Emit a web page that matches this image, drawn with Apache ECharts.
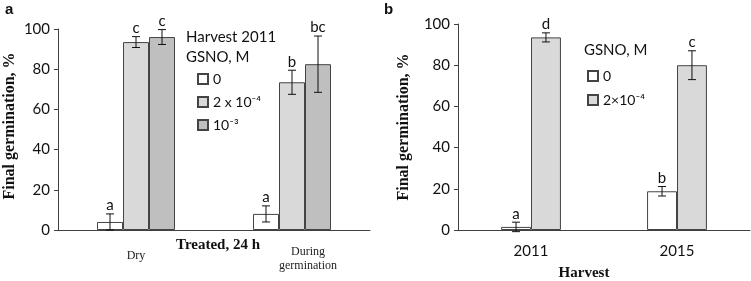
<!DOCTYPE html>
<html>
<head>
<meta charset="utf-8">
<script src="https://cdn.jsdelivr.net/npm/echarts@6/dist/echarts.min.js"></script>
<style>
  html, body { margin: 0; padding: 0; background: #fff; }
  #chart { width: 751px; height: 281px; }
</style>
</head>
<body>
<div id="chart"></div>
<script>
// panel a: harvest 2011, treated 24 h
const treatCats = ['Dry', 'During germination']
const aNames = ['0', '2 x 10⁻⁴', '10⁻³']
const aVals = [[4, 8], [93.5, 73.5], [96, 82.5]]
const aErrs = [[4, 4], [2.7, 6], [3.7, 14]]
const aLetters = [['a', 'a'], ['c', 'b'], ['c', 'bc']]

// panel b: harvests
const harvestCats = ['2011', '2015']
const bNames = ['0', '2×10⁻⁴']
const bVals = [[1.5, 18.8], [93.5, 80]]
const bErrs = [[2.3, 2.3], [2.2, 7]]
const bLetters = [['a', 'b'], ['d', 'c']]

const yTicks = [0, 20, 40, 60, 80, 100]

const SANS = 'Lato'
const SERIF = 'Liberation Serif'
const AXIS = '#404040'
const fills = ['#ffffff', '#d9d9d9', '#bfbfbf']

const chart = echarts.init(document.getElementById('chart'))

const gapA = 0.5
const gapB = 0.59

const yAxisFor = (gridIndex, gap, pad) => ({
  type: 'value',
  gridIndex,
  min: yTicks[0],
  max: yTicks[yTicks.length - 1],
  interval: yTicks[1] - yTicks[0],
  name: 'Final germination, %',
  nameLocation: 'middle',
  nameRotate: 90,
  nameGap: gap,
  nameMoveOverlap: false,
  nameTextStyle: { fontFamily: SERIF, fontWeight: 'bold', fontSize: 16, color: '#111', padding: pad },
  axisLine: { show: true, lineStyle: { color: AXIS } },
  axisTick: { show: true, length: 4, lineStyle: { color: AXIS } },
  axisLabel: { fontFamily: SANS, fontSize: 15, color: '#111', margin: 8 },
  splitLine: { show: false }
})

const errSeries = (xi, vals, errs, letters, i, n, gap) => ({
  type: 'custom',
  xAxisIndex: xi,
  yAxisIndex: xi,
  silent: true,
  z: 5,
  data: vals.map((v, k) => [k, v, errs[k]]),
  renderItem: (params, api) => {
    const c = api.value(0), v = api.value(1), e = api.value(2)
    const band = api.size([1, 0])[0]
    const bw = band * (1 - gap) / n
    const cx = api.coord([c, v])[0] + (i - (n - 1) / 2) * bw
    const yt = api.coord([c, v + e])[1]
    const yb = api.coord([c, v - e])[1]
    const st = { stroke: '#111', lineWidth: 1 }
    return {
      type: 'group',
      children: [
        { type: 'line', shape: { x1: cx, y1: yt, x2: cx, y2: yb }, style: st },
        { type: 'line', shape: { x1: cx - 4, y1: yt, x2: cx + 4, y2: yt }, style: st },
        { type: 'line', shape: { x1: cx - 4, y1: yb, x2: cx + 4, y2: yb }, style: st },
        {
          type: 'text',
          style: {
            text: letters[params.dataIndex],
            x: cx, y: yt - 1,
            align: 'center', verticalAlign: 'bottom',
            fontFamily: SANS, fontSize: 15, fill: '#111'
          }
        }
      ]
    }
  }
})

const barSeries = (xi, name, vals, i, gap) => ({
  type: 'bar',
  name,
  xAxisIndex: xi,
  yAxisIndex: xi,
  data: vals,
  barGap: '0%',
  barCategoryGap: (gap * 100) + '%',
  itemStyle: { color: fills[i], borderColor: '#444', borderWidth: 1 }
})

const series = []
aNames.forEach((nm, i) => series.push(barSeries(0, nm, aVals[i], i, gapA)))
bNames.forEach((nm, i) => series.push(barSeries(1, nm, bVals[i], i, gapB)))
aNames.forEach((nm, i) => series.push(errSeries(0, aVals[i], aErrs[i], aLetters[i], i, aNames.length, gapA)))
bNames.forEach((nm, i) => series.push(errSeries(1, bVals[i], bErrs[i], bLetters[i], i, bNames.length, gapB)))

const legendText = { fontFamily: SANS, fontSize: 14, color: '#111' }

const option = {
  animation: false,
  backgroundColor: '#fff',
  grid: [
    { left: 58, top: 29, width: 312, height: 201, outerBoundsMode: 'none', containLabel: false },
    { left: 458, top: 24, width: 292, height: 206, outerBoundsMode: 'none', containLabel: false }
  ],
  xAxis: [
    {
      type: 'category',
      gridIndex: 0,
      data: [
        { value: treatCats[0], textStyle: { padding: [4, 0, 0, 0] } },
        { value: treatCats[1], textStyle: { padding: [0, 0, 0, 32] } }
      ],
      name: 'Treated, 24 h',
      nameLocation: 'middle',
      nameGap: 8,
      nameMoveOverlap: false,
      nameTextStyle: { fontFamily: SERIF, fontWeight: 'bold', fontSize: 15, color: '#111', padding: [0, 0, 0, 8] },
      axisLine: { lineStyle: { color: AXIS } },
      axisTick: { length: 5, lineStyle: { color: AXIS } },
      axisLabel: {
        fontFamily: SERIF, fontSize: 12, color: '#222', margin: 15, lineHeight: 14,
        formatter: (v) => v.replace(' ', '\n')
      }
    },
    {
      type: 'category',
      gridIndex: 1,
      data: harvestCats,
      name: 'Harvest',
      nameLocation: 'middle',
      nameGap: 36,
      nameMoveOverlap: false,
      nameTextStyle: { fontFamily: SERIF, fontWeight: 'bold', fontSize: 15, color: '#111', padding: [0, 40, 0, 0] },
      axisLine: { lineStyle: { color: AXIS } },
      axisTick: { length: 5, lineStyle: { color: AXIS } },
      axisLabel: { fontFamily: SANS, fontSize: 15, color: '#111', margin: 14 }
    }
  ],
  yAxis: [yAxisFor(0, 40, [0, 0, 0, 7]), yAxisFor(1, 46, 0)],
  legend: [
    {
      data: aNames,
      orient: 'vertical',
      left: 192, top: 67,
      itemWidth: 10, itemHeight: 10, itemGap: 9,
      icon: 'rect',
      textStyle: legendText,
      selectedMode: false
    },
    {
      data: bNames,
      orient: 'vertical',
      left: 582, top: 64,
      itemWidth: 10, itemHeight: 10, itemGap: 10,
      icon: 'rect',
      textStyle: legendText,
      selectedMode: false
    }
  ],
  graphic: [
    { type: 'text', left: 5, top: 2, style: { text: 'a', font: 'bold 15px "Liberation Sans"', fill: '#111' } },
    { type: 'text', left: 384, top: 2, style: { text: 'b', font: 'bold 15px "Liberation Sans"', fill: '#111' } },
    { type: 'text', left: 186, top: 30, style: { text: 'Harvest 2011', font: '15px Lato', fill: '#111' } },
    { type: 'text', left: 186, top: 50, style: { text: 'GSNO, M', font: '15px Lato', fill: '#111' } },
    { type: 'text', left: 584, top: 43, style: { text: 'GSNO, M', font: '15px Lato', fill: '#111' } }
  ],
  series
}

chart.setOption(option)
</script>
</body>
</html>
